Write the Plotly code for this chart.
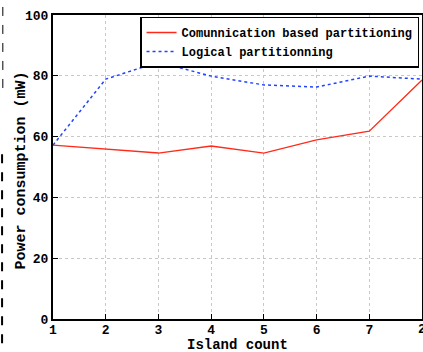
import plotly.graph_objects as go

island_count = [1, 2, 3, 4, 5, 6, 7, 8]
tick_labels = ["1", "2", "3", "4", "5", "6", "7", "2"]
y_ticks = [0, 20, 40, 60, 80, 100]
comm_based = [57.2, 55.9, 54.6, 56.9, 54.6, 58.9, 61.8, 78.6]
logical = [57.2, 78.9, 84.5, 79.9, 77.0, 76.3, 79.9, 78.9]

font_family = "Liberation Mono, Courier New, monospace"

fig = go.Figure()
fig.add_trace(go.Scatter(x=island_count, y=comm_based, mode="lines",
                         name="Comunnication based partitioning",
                         line=dict(color="#ff2a1a", width=1.3)))
fig.add_trace(go.Scatter(x=island_count, y=logical, mode="lines",
                         name="Logical partitionning",
                         line=dict(color="#2244ff", width=1.5, dash="dot")))

axis_common = dict(showline=True, linecolor="black", linewidth=2, mirror=True,
                   ticks="inside", ticklen=5, tickcolor="black",
                   showgrid=True, gridcolor="#c8c8c8", griddash="dot", gridwidth=1,
                   zeroline=False, automargin=False,
                   tickfont=dict(family=font_family, size=13, color="black", weight="bold"))

fig.update_layout(
    width=423, height=352,
    margin=dict(l=53, r=1, t=15, b=33),
    paper_bgcolor="white", plot_bgcolor="white",
    font=dict(family=font_family, color="black", weight="bold"),
    xaxis=dict(range=[1, 8], tickvals=island_count[:-1], ticktext=tick_labels[:-1],
               ticklabelstandoff=-3, **axis_common),
    yaxis=dict(range=[0, 100], tickvals=y_ticks, ticklabelstandoff=0, **axis_common),
    legend=dict(x=0.992, y=0.995, xanchor="right", yanchor="top",
                bgcolor="white", bordercolor="black", borderwidth=1.5,
                font=dict(family=font_family, size=12, color="black", weight="bold"),
                tracegroupgap=0, itemwidth=30),
    showlegend=True,
)

# last tick label (partly cut at the right edge, as in the reference)
fig.add_annotation(text=tick_labels[-1], xref="x", yref="paper",
                   x=island_count[-1], y=-0.004, xanchor="center", yanchor="top",
                   showarrow=False,
                   font=dict(family=font_family, size=13, color="black", weight="bold"))

fig.add_annotation(text="Island count", xref="paper", yref="paper",
                   x=0.5, y=-0.086, xanchor="center", yanchor="middle", showarrow=False,
                   font=dict(family=font_family, size=14, color="black", weight="bold"))
fig.add_annotation(text="Power consumption (mW)", xref="paper", yref="paper",
                   x=-0.085, y=0.487, xanchor="center", yanchor="middle", showarrow=False,
                   textangle=-90,
                   font=dict(family=font_family, size=15, color="black", weight="bold"))

# dashed artifacts at left edge
fig.add_shape(type="line", xref="paper", yref="paper", x0=-0.136, x1=-0.136,
              y0=0.76, y1=1.05, line=dict(color="black", width=1, dash="dash"))
fig.add_shape(type="line", xref="paper", yref="paper", x0=-0.138, x1=-0.138,
              y0=-0.08, y1=0.55, line=dict(color="black", width=2, dash="dash"))

fig.write_html("out.html", post_script="document.body.style.margin='0';",
               config={"displayModeBar": False})
